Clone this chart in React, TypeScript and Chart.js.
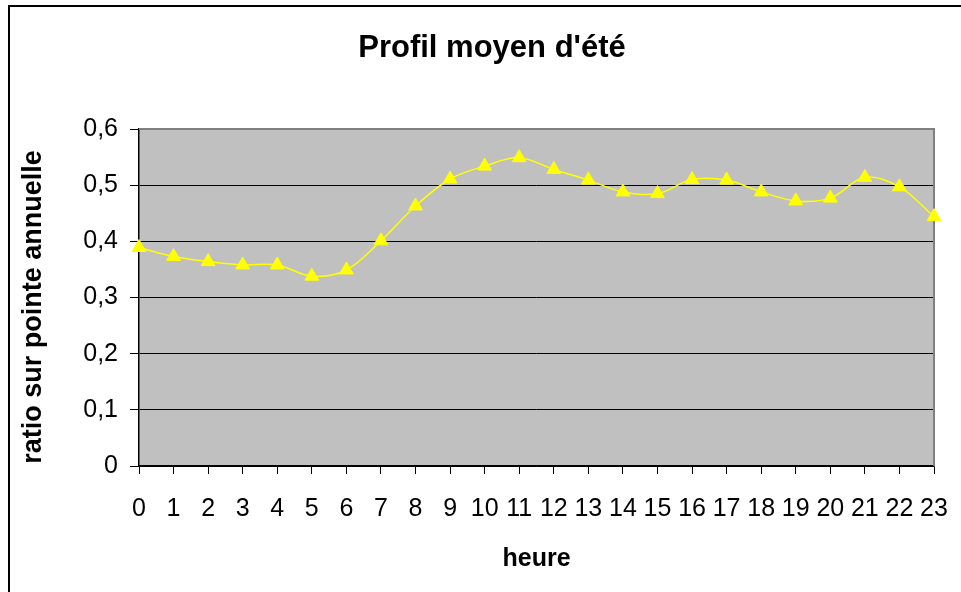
import React, { useEffect, useRef } from "react";
import { Chart, registerables } from "chart.js";

Chart.register(...registerables);

const hours: string[] = ["0","1","2","3","4","5","6","7","8","9","10","11","12","13","14","15","16","17","18","19","20","21","22","23"];
const ratioValues: number[] = [0.389,0.373,0.364,0.358,0.358,0.338,0.349,0.401,0.463,0.511,0.534,0.549,0.528,0.509,0.488,0.485,0.510,0.509,0.488,0.472,0.477,0.514,0.497,0.444];
const yMin = 0;
const yMax = 0.6;
const yStep = 0.1;
const chartTitle = "Profil moyen d'été";
const xTitle = "heure";
const yTitle = "ratio sur pointe annuelle";

const FONT = '"Liberation Sans", Arial, sans-serif';

const framePlugin = {
  id: "framePlugin",
  beforeDraw(chart: any) {
    const { ctx, chartArea } = chart;
    ctx.save();
    ctx.fillStyle = "#ffffff";
    ctx.fillRect(0, 0, chart.width, chart.height);
    ctx.strokeStyle = "#000000";
    ctx.lineWidth = 2;
    ctx.strokeRect(9, 6, 980, 620);
    ctx.fillStyle = "#C0C0C0";
    ctx.fillRect(chartArea.left, chartArea.top, chartArea.right - chartArea.left, chartArea.bottom - chartArea.top);
    ctx.restore();
  },
  beforeDatasetsDraw(chart: any) {
    const { ctx, chartArea } = chart;
    ctx.save();
    ctx.strokeStyle = "#808080";
    ctx.lineWidth = 2;
    ctx.beginPath();
    ctx.moveTo(chartArea.left, chartArea.top);
    ctx.lineTo(chartArea.right, chartArea.top);
    ctx.lineTo(chartArea.right, chartArea.bottom);
    ctx.stroke();
    ctx.restore();
  },
  afterDraw(chart: any) {
    const { ctx } = chart;
    ctx.save();
    ctx.fillStyle = "#000000";
    ctx.font = `bold 31px ${FONT}`;
    ctx.textAlign = "center";
    ctx.textBaseline = "middle";
    ctx.fillText(chartTitle, 492, 48);
    ctx.translate(34, 307);
    ctx.rotate(-Math.PI / 2);
    ctx.font = `bold 27px ${FONT}`;
    ctx.fillText(yTitle, 0, 0);
    ctx.restore();
  },
};

export default function App() {
  const ref = useRef<HTMLCanvasElement | null>(null);
  useEffect(() => {
    document.body.style.margin = "0";
    if (!ref.current) return;
    const chart = new Chart(ref.current, {
      type: "line",
      data: {
        labels: hours,
        datasets: [
          {
            data: ratioValues,
            borderColor: "#FFFF00",
            backgroundColor: "#FFFF00",
            borderWidth: 1.5,
            pointStyle: "triangle",
            pointRadius: 8,
            pointBorderWidth: 1,
            pointBorderColor: "#FFFF00",
            pointBackgroundColor: "#FFFF00",
            tension: 0.35,
            fill: false,
            clip: false as any,
          },
        ],
      },
      plugins: [framePlugin],
      options: {
        animation: false,
        responsive: false,
        maintainAspectRatio: false,
        layout: { padding: { left: 10, right: 27, top: 129, bottom: 0 } },
        plugins: {
          legend: { display: false },
          title: { display: false },
          tooltip: { enabled: false },
        },
        scales: {
          x: {
            type: "category",
            offset: false,
            afterFit(scale: any) {
              scale.height = 126;
              scale.paddingLeft = 0;
              scale.paddingRight = 0;
            },
            grid: {
              display: true,
              drawOnChartArea: false,
              drawTicks: true,
              tickLength: 8,
              color: "#000000",
            },
            border: { display: true, color: "#000000", width: 1.5 },
            ticks: {
              autoSkip: false,
              maxRotation: 0,
              minRotation: 0,
              padding: 20,
              color: "#000000",
              font: { family: FONT, size: 25 },
            },
            title: {
              display: true,
              text: xTitle,
              color: "#000000",
              font: { family: FONT, size: 25, weight: "bold" },
              padding: { top: 0, bottom: 18 },
            },
          },
          y: {
            min: yMin,
            max: yMax,
            afterFit(scale: any) {
              scale.width = 129;
            },
            grid: {
              display: true,
              drawTicks: true,
              tickLength: 9,
              color: "#000000",
              lineWidth: 1,
            },
            border: { display: true, color: "#000000", width: 1.5 },
            ticks: {
              stepSize: yStep,
              padding: 12,
              color: "#000000",
              font: { family: FONT, size: 25 },
              callback: (v: any) => {
                const n = Number(v);
                return n === 0 ? "0" : n.toFixed(1).replace(".", ",");
              },
            },
            title: { display: false },
          },
        },
      } as any,
    });
    return () => chart.destroy();
  }, []);
  return (
    <div style={{ width: 961, height: 592 }}>
      <canvas ref={ref} width={961} height={592} style={{ display: "block" }} />
    </div>
  );
}
